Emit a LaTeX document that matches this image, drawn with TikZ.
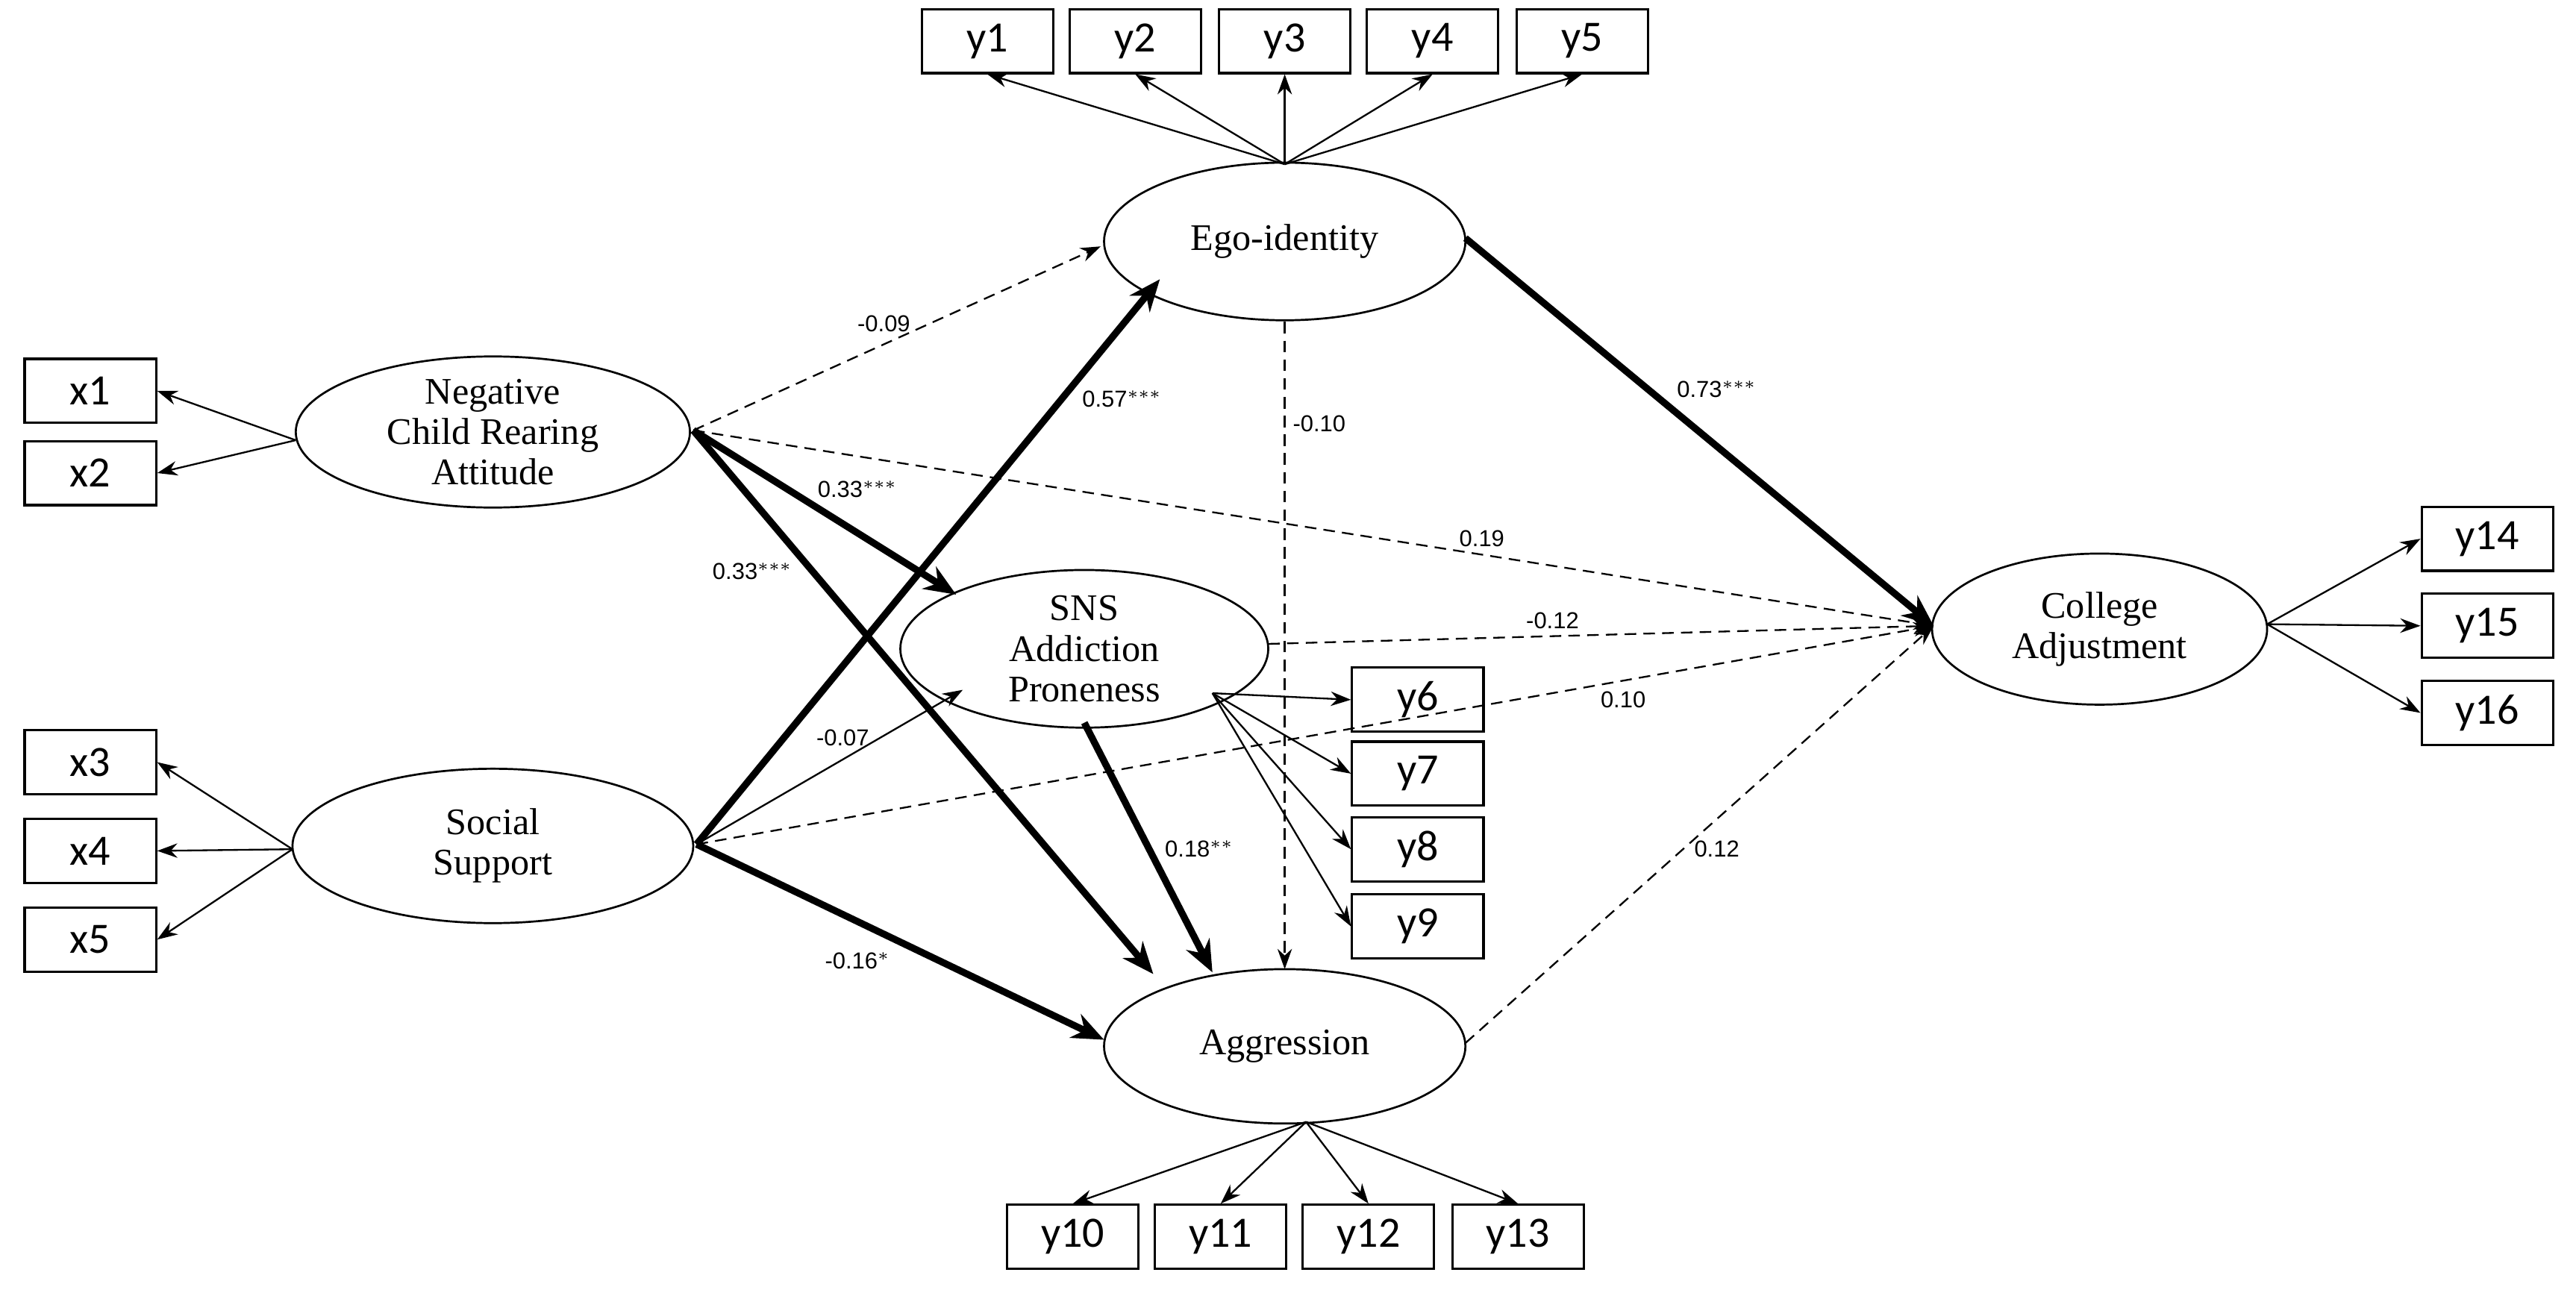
\documentclass[tikz,border=0pt]{standalone}
\usepackage{fontspec}
\setmainfont{Liberation Serif}
\newfontfamily\boxfont{Carlito}
\newfontfamily\lblfont{Liberation Sans}
\usetikzlibrary{arrows.meta,shapes.geometric}
\begin{document}
\begin{tikzpicture}[x=0.02cm,y=-0.02cm,
  bx/.style={draw,line width=0.8pt,minimum width=1.6cm,minimum height=0.78cm,font=\boxfont\fontsize{15}{15}\selectfont,inner sep=0pt},
  el/.style={draw,line width=0.7pt,ellipse,align=center,font=\fontsize{13}{14}\selectfont,inner sep=0pt},
  ind/.style={-{Stealth[length=7pt,width=5pt]},line width=0.6pt},
  thn/.style={-{Stealth[length=7pt,width=5pt]},line width=0.6pt},
  dsh/.style={-{Stealth[length=7pt,width=5pt]},line width=0.6pt,dash pattern=on 4pt off 2.5pt},
  thk/.style={-{Stealth[length=11pt,width=9pt]},line width=2.4pt},
  lb/.style={font=\lblfont\fontsize{8}{8}\selectfont,inner sep=1pt}]
\useasboundingbox (0,0) rectangle (1568,787);
\fill[white] (0,0) rectangle (1568,787);
% ellipses
\node[el,minimum width=4.4cm,minimum height=1.92cm] (ego) at (782,147) {Ego-identity};
\node[el,minimum width=4.8cm,minimum height=1.84cm] (neg) at (300,263) {Negative\\Child Rearing\\Attitude};
\node[el,minimum width=4.48cm,minimum height=1.92cm] (sns) at (660,395) {SNS\\Addiction\\Proneness};
\node[el,minimum width=4.88cm,minimum height=1.88cm] (soc) at (300,515) {Social\\Support};
\node[el,minimum width=4.4cm,minimum height=1.88cm] (agg) at (782,637) {Aggression};
\node[el,minimum width=4.08cm,minimum height=1.84cm] (col) at (1278,383) {College\\Adjustment};
% boxes
\foreach \n/\x/\y in {y1/601/25,y2/691/25,y3/782/25,y4/872/25,y5/963/25,
 x1/55/238,x2/55/288,x3/55/464,x4/55/518,x5/55/572,
 y6/863/426,y7/863/471,y8/863/517,y9/863/564,
 y10/653/753,y11/743/753,y12/833/753,y13/924/753,
 y14/1514/328,y15/1514/381,y16/1514/434}
 \node[bx] (\n) at (\x,\y) {\n};
% anchor coordinates
\coordinate (egoT) at (782,100);
\coordinate (negL) at (180,268);
\coordinate (socL) at (178,517);
\coordinate (snsR) at (738,422);
\coordinate (aggB) at (795,683);
\coordinate (colR) at (1380,380);
\coordinate (colL) at (1177,381);
\coordinate (negR) at (422,262);
\coordinate (socR) at (424,514);
\coordinate (egoL) at (670,150);
\coordinate (egoBL) at (706,170);
\coordinate (egoR) at (892,145);
\coordinate (egoB) at (782,196);
\coordinate (aggT) at (782,590);
\coordinate (aggTL) at (702,593);
\coordinate (aggT2) at (738,592);
\coordinate (aggL) at (672,633);
\coordinate (aggR) at (892,635);
\coordinate (snsTL) at (582,362);
\coordinate (snsL) at (586,420);
\coordinate (snsB) at (660,440);
\coordinate (snsRt) at (772,392);
\foreach \b in {y1,y2,y3,y4,y5} \draw[ind] (egoT) -- (\b.south);
\foreach \b in {x1,x2} \draw[ind] (negL) -- (\b.east);
\foreach \b in {x3,x4,x5} \draw[ind] (socL) -- (\b.east);
\foreach \b in {y6,y7,y8,y9} \draw[ind] (snsR) -- (\b.west);
\foreach \b in {y10,y11,y12,y13} \draw[ind] (aggB) -- (\b.north);
\foreach \b in {y14,y15,y16} \draw[ind] (colR) -- (\b.west);
% structural paths
\draw[dsh] (negR) -- (egoL);
\draw[thk] (egoR) -- (colL);
\draw[dsh] (egoB) -- (aggT);
\draw[dsh] (negR) -- (colL);
\draw[thk] (negR) -- (snsTL);
\draw[thk] (negR) -- (aggTL);
\draw[thk] (socR) -- (egoBL);
\draw[thn] (socR) -- (snsL);
\draw[dsh] (socR) -- (colL);
\draw[thk] (socR) -- (aggL);
\draw[dsh] (snsRt) -- (colL);
\draw[thk] (snsB) -- (aggT2);
\draw[dsh] (aggR) -- (colL);
% labels
\node[lb] (l1) at (538,197) {-0.09};
\node[lb] (l2) at (1045,237) {0.73$^{***}$};
\node[lb] (l3) at (803,258) {-0.10};
\node[lb] (l4) at (902,328) {0.19};
\node[lb] (l5) at (522,298) {0.33$^{***}$};
\node[lb] (l6) at (458,348) {0.33$^{***}$};
\node[lb] (l7) at (683,243) {0.57$^{***}$};
\node[lb] (l8) at (513,449) {-0.07};
\node[lb] (l9) at (988,426) {0.10};
\node[lb] (l10) at (522,585) {-0.16$^{*}$};
\node[lb] (l11) at (945,378) {-0.12};
\node[lb] (l12) at (730,517) {0.18$^{**}$};
\node[lb] (l13) at (1045,517) {0.12};
\end{tikzpicture}
\end{document}
